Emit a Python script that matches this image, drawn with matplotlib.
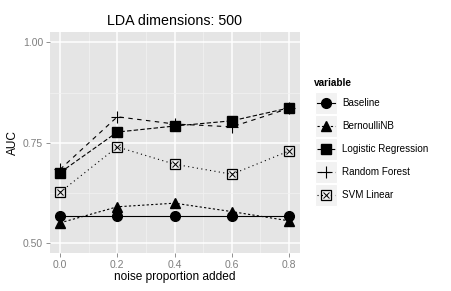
import matplotlib
matplotlib.use("Agg")
import matplotlib.pyplot as plt
from matplotlib.patches import Rectangle

plt.rcParams["font.family"] = ["Liberation Sans", "DejaVu Sans"]

noise = [0.0, 0.2, 0.4, 0.6, 0.8]
baseline = [0.569, 0.569, 0.569, 0.569, 0.569]
bernoulli_nb = [0.551, 0.591, 0.600, 0.579, 0.556]
logistic_regression = [0.676, 0.777, 0.792, 0.805, 0.837]
random_forest = [0.684, 0.815, 0.797, 0.790, 0.836]
svm_linear = [0.627, 0.740, 0.697, 0.672, 0.730]

series_names = ["Baseline", "BernoulliNB", "Logistic Regression", "Random Forest", "SVM Linear"]
series_values = [baseline, bernoulli_nb, logistic_regression, random_forest, svm_linear]

# ggplot-ish linetypes / shapes: solid, 22, 42, 44, 13 ; 16, 17, 15, 3, 7
dash_styles = [None, (2, 2), (4, 2), (4, 4), (1, 3)]
marker_styles = ["o", "^", "s", "+", "sx"]

W, H = 452, 291
fig = plt.figure(figsize=(W / 100, H / 100), dpi=100)

# panel in pixel coordinates
left, right, top, bottom = 50, 300, 32, 253
ax = fig.add_axes([left / W, 1 - bottom / H, (right - left) / W, (bottom - top) / H])
ax.set_facecolor("#E5E5E5")
for s in ax.spines.values():
    s.set_visible(False)

ax.set_xlim(-0.035, 0.838)
ax.set_ylim(0.476, 1.026)
ax.set_xticks([0.0, 0.2, 0.4, 0.6, 0.8])
ax.set_yticks([0.50, 0.75, 1.00])
ax.set_xticks([0.1, 0.3, 0.5, 0.7], minor=True)
ax.set_yticks([0.625, 0.875], minor=True)
ax.set_xticklabels(["0.0", "0.2", "0.4", "0.6", "0.8"])
ax.set_yticklabels(["0.50", "0.75", "1.00"])
ax.grid(which="major", color="white", lw=1.1)
ax.grid(which="minor", color="#F2F2F2", lw=0.5)
ax.set_axisbelow(True)
ax.tick_params(which="major", length=3, width=0.6, color="#7F7F7F",
               labelcolor="#7F7F7F", labelsize=7.5, pad=2)
ax.tick_params(which="minor", length=0)


def draw_marker(target, x, y, m):
    if m == "sx":
        target.plot(x, y, ls="none", marker="s", ms=6.5, mfc="none", mec="black", mew=0.9)
        target.plot(x, y, ls="none", marker="x", ms=5, mec="black", mew=0.7)
    elif m == "+":
        target.plot(x, y, ls="none", marker="+", ms=9, mec="black", mew=0.8)
    elif m == "s":
        target.plot(x, y, ls="none", marker="s", ms=6.5, mfc="black", mec="black")
    elif m == "^":
        target.plot(x, y, ls="none", marker="^", ms=7, mfc="black", mec="black")
    else:
        target.plot(x, y, ls="none", marker="o", ms=7, mfc="black", mec="black")


for vals, dash, m in zip(series_values, dash_styles, marker_styles):
    line, = ax.plot(noise, vals, color="black", lw=0.8)
    if dash is not None:
        line.set_dashes(dash)
    draw_marker(ax, noise, vals, m)

ax.set_title("LDA dimensions: 500", fontsize=10.3, pad=5)
ax.set_xlabel("noise proportion added", fontsize=8.6, labelpad=1)
ax.set_ylabel("AUC", fontsize=8.6, labelpad=3)

# legend drawn by hand (ggplot style keys)
lg = fig.add_axes([0, 0, 1, 1], facecolor="none")
lg.set_xlim(0, W)
lg.set_ylim(H, 0)
lg.axis("off")
lg.text(314, 83, "variable", fontsize=7.2, fontweight="bold", va="center", ha="left")
key_x0, key_w, key_h, key_y0 = 315, 22, 22, 92
for i, (name, dash, m) in enumerate(zip(series_names, dash_styles, marker_styles)):
    yc = key_y0 + i * 23 + key_h / 2
    lg.add_patch(Rectangle((key_x0, yc - key_h / 2), key_w, key_h,
                           facecolor="#F2F2F2", edgecolor="white", lw=0.8))
    line, = lg.plot([key_x0 + 2, key_x0 + key_w - 2], [yc, yc], color="black", lw=0.8)
    if dash is not None:
        line.set_dashes(dash)
    draw_marker(lg, [key_x0 + key_w / 2], [yc], m)
    lg.text(key_x0 + key_w + 5, yc, name, fontsize=7.1, va="center", ha="left")

fig.savefig("out.png", dpi=100)
